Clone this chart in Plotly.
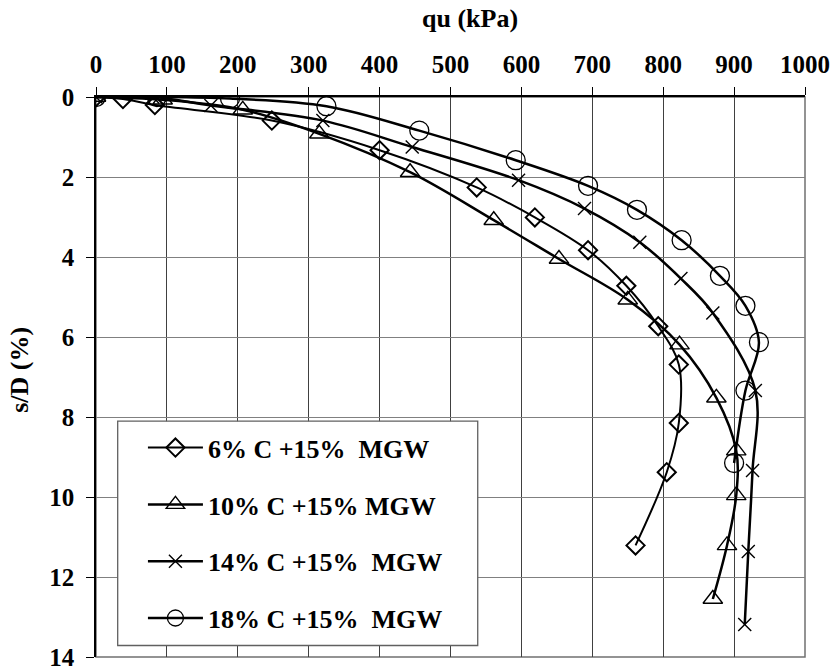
import plotly.graph_objects as go

# ---- data ----
names = ["6% C +15%\u00a0 MGW", "10% C +15% MGW", "14% C +15%\u00a0 MGW", "18% C +15%\u00a0 MGW"]

q6 = [0, 38, 83, 248, 400, 537, 619, 694, 748, 793, 822, 822, 805, 761]
s6 = [0, 0.05, 0.2, 0.59, 1.33, 2.26, 3.01, 3.83, 4.72, 5.73, 6.69, 8.15, 9.38, 11.21]

q10 = [0, 94, 207, 315, 443, 561, 653, 750, 823, 875, 903, 903, 890, 870]
s10 = [0, 0.07, 0.32, 0.92, 1.88, 3.08, 4.05, 5.07, 6.19, 7.52, 8.84, 9.96, 11.21, 12.55]

q14 = [0, 80, 162, 320, 446, 596, 689, 767, 825, 870, 930, 926, 920, 915]
s14 = [0, 0, 0.21, 0.59, 1.25, 2.08, 2.79, 3.63, 4.54, 5.4, 7.34, 9.34, 11.36, 13.19]

q18 = [0, 86, 189, 325, 456, 592, 694, 763, 826, 880, 916, 935, 916, 900]
s18 = [0, 0, 0.04, 0.23, 0.84, 1.58, 2.22, 2.82, 3.58, 4.47, 5.22, 6.13, 7.34, 9.15]

x_ticks = [0, 100, 200, 300, 400, 500, 600, 700, 800, 900, 1000]
y_ticks = [0, 2, 4, 6, 8, 10, 12, 14]

FONT = "Liberation Serif, Times New Roman, serif"

series = [
    (q6, s6, names[0], "diamond-open", 14, 2.0, 2.0),
    (q10, s10, names[1], "triangle-up-open", 17, 1.4, 2.5),
    (q14, s14, names[2], "x-thin-open", 13, 1.4, 2.5),
    (q18, s18, names[3], "circle-open", 19, 1.3, 2.5),
]

fig = go.Figure()
for i, (qx, sy, nm, sym, sz, mlw, lw) in enumerate(series):
    fig.add_trace(go.Scatter(
        x=qx, y=sy, name=nm, mode="lines+markers",
        legendgroup=f"g{i}",
        line=dict(color="black", width=lw, shape="spline", smoothing=1.0),
        marker=dict(symbol=sym, size=sz, color="black",
                    line=dict(color="black", width=mlw)),
    ))

bold = dict(family=FONT, color="black", weight="bold")

fig.update_layout(
    width=834, height=671,
    margin=dict(l=96, r=28.5, t=97.3, b=13.5, autoexpand=False),
    paper_bgcolor="white", plot_bgcolor="white",
    font=dict(size=25, **bold),
    showlegend=True,
    legend=dict(
        x=0.0662, y=0.4157, xanchor="left", yanchor="top",
        bgcolor="rgba(0,0,0,0)", borderwidth=0,
        font=dict(size=26, **bold),
        traceorder="grouped", tracegroupgap=20,
        itemwidth=55,
    ),
    shapes=[
        dict(type="rect", xref="paper", yref="paper", x0=0, y0=0, x1=1, y1=1,
             line=dict(color="#707070", width=1.5), layer="below"),
        # legend frame
        dict(type="rect", xref="paper", yref="paper", x0=0.0306, y0=0.0205, x1=0.5384, y1=0.4211,
             line=dict(color="#606060", width=1.3), fillcolor="white", layer="above"),
    ],
    annotations=[
        dict(text="qu (kPa)", xref="paper", yref="paper",
             x=0.527, y=1.140, xanchor="center", yanchor="middle",
             showarrow=False, font=dict(size=26, **bold)),
        dict(text="s/D (%)", xref="paper", yref="paper",
             x=-0.107, y=0.513, xanchor="center", yanchor="middle", textangle=-90,
             showarrow=False, font=dict(size=26, **bold)),
    ],
)

fig.update_xaxes(
    side="top", range=[0, 1000], tickvals=x_ticks,
    showgrid=True, gridcolor="#404040", gridwidth=1,
    showline=True, linecolor="black", linewidth=1.5,
    ticks="outside", ticklen=8, tickcolor="black", tickwidth=1,
    ticklabelstandoff=4,
    zeroline=False, automargin=False, tickfont=dict(size=25, **bold),
)
fig.update_yaxes(
    range=[14, 0], tickvals=y_ticks,
    showgrid=True, gridcolor="#808080", gridwidth=1.3,
    showline=True, linecolor="black", linewidth=1.5,
    ticks="outside", ticklen=8, tickcolor="black", tickwidth=1,
    ticklabelstandoff=7,
    zeroline=False, automargin=False, tickfont=dict(size=25, **bold),
)

fig.write_html("out.html")
